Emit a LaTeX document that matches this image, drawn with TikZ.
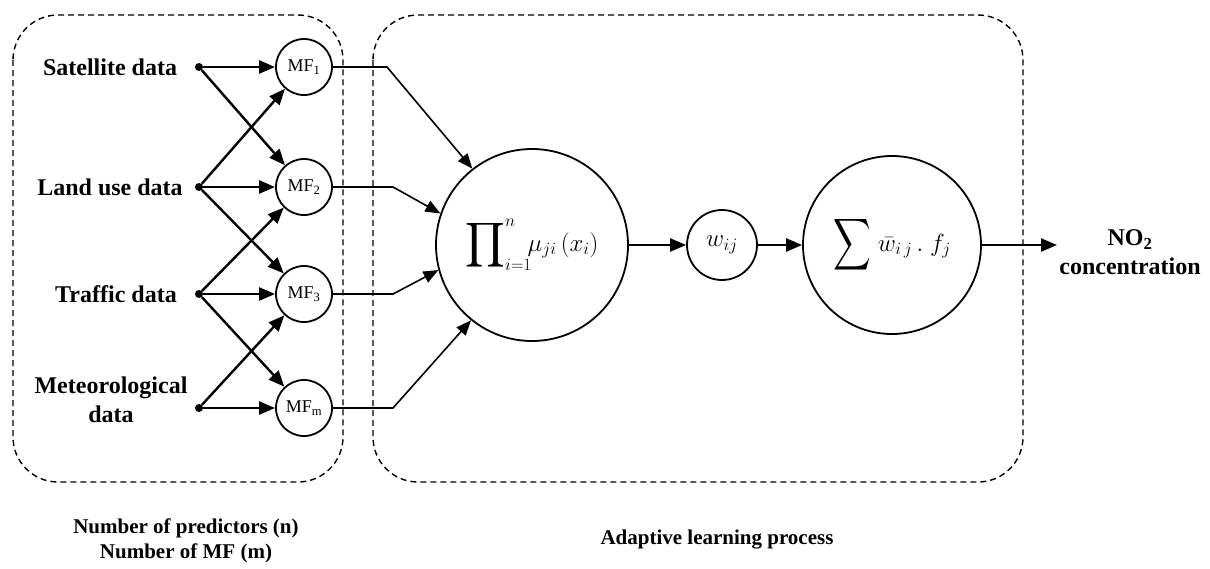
\documentclass[tikz,border=0pt]{standalone}
\usepackage{amsmath}
\usepackage{graphicx}
\usepackage{fontspec}
\setmainfont{Liberation Serif}
\usetikzlibrary{arrows.meta}
\begin{document}
\begin{tikzpicture}[x=1pt,y=-1pt,
  lbl/.style={font=\fontsize{24}{29}\selectfont\bfseries, align=center, inner sep=0},
  lbltwo/.style={font=\fontsize{21}{25}\selectfont\bfseries, align=center, inner sep=0},
  mf/.style={circle, draw, line width=1.8pt, minimum size=56pt, inner sep=0, font=\fontsize{18}{18}\selectfont},
  bigc/.style={circle, draw, line width=1.8pt, inner sep=0},
  dotn/.style={circle, fill, inner sep=0, minimum size=8pt},
  inarr/.style={line width=2.4pt, -{Triangle[length=16pt,width=13pt]}},
  outarr/.style={line width=1.6pt, -{Triangle[length=15pt,width=12pt]}},
  grp/.style={dash pattern=on 6pt off 4pt, line width=1.4pt, rounded corners=45pt}]
\useasboundingbox (0,0) rectangle (1210,568);

% group boxes
\draw[grp] (13,15) rectangle (343,482);
\draw[grp] (373,15) rectangle (1023,482);

% input labels
\node[lbl] (l1) at (110,67) {Satellite data};
\node[lbl] (l2) at (110,187) {Land use data};
\node[lbl] (l3) at (116,294) {Traffic data};
\node[lbl] (l4) at (111,400) {Meteorological\\data};

% dots
\node[dotn] (d1) at (199,67) {};
\node[dotn] (d2) at (199,187) {};
\node[dotn] (d3) at (199,294) {};
\node[dotn] (d4) at (199,408) {};

% MF nodes
\node[mf] (m1) at (304,67) {MF\textsubscript{1}};
\node[mf] (m2) at (304,187) {MF\textsubscript{2}};
\node[mf] (m3) at (304,294) {MF\textsubscript{3}};
\node[mf] (m4) at (304,408) {MF\textsubscript{m}};

% input arrows
\draw[inarr] (d1) -- (m1);
\draw[inarr] (d1) -- (m2);
\draw[inarr] (d2) -- (m1);
\draw[inarr] (d2) -- (m2);
\draw[inarr] (d2) -- (m3);
\draw[inarr] (d3) -- (m2);
\draw[inarr] (d3) -- (m3);
\draw[inarr] (d3) -- (m4);
\draw[inarr] (d4) -- (m3);
\draw[inarr] (d4) -- (m4);

% rule nodes
\node[bigc, minimum size=192pt] (prod) at (532,245)
  {\fontsize{25}{28}\selectfont$\vcenter{\hbox{\scalebox{1.25}{$\displaystyle\prod$}}}_{i=1}^{n}\!\mu_{ji}\,(x_i)$};
\node[bigc, minimum size=70pt] (w) at (722,245) {\fontsize{26}{28}\selectfont$w_{ij}$};
\node[bigc, minimum size=178pt] (sum) at (892,245)
  {\fontsize{25}{28}\selectfont$\vcenter{\hbox{\scalebox{1.05}[1.45]{$\displaystyle\sum$}}}\;\bar{w}_{i\,j}\,.\;f_j$};
\node[lbl] (no2) at (1130,252) {NO\textsubscript{2}\\concentration};

% MF to product connectors
\coordinate (k1) at (387,67);
\coordinate (k2) at (393,187);
\coordinate (k3) at (393,294);
\coordinate (k4) at (393,408);
\draw[outarr] (m1) -- (k1) -- (prod.128);
\draw[outarr] (m2) -- (k2) -- (prod.161);
\draw[outarr] (m3) -- (k3) -- (prod.195);
\draw[outarr] (m4) -- (k4) -- (prod.231);

% chain
\coordinate (out) at (1057,245);
\draw[inarr] (prod) -- (w);
\draw[inarr] (w) -- (sum);
\draw[inarr] (sum) -- (out);

% bottom captions
\node[lbltwo] (cap1) at (186,541) {Number of predictors (n)\\Number of MF (m)};
\node[lbltwo] (cap2) at (717,540) {Adaptive learning process};
\end{tikzpicture}
\end{document}
